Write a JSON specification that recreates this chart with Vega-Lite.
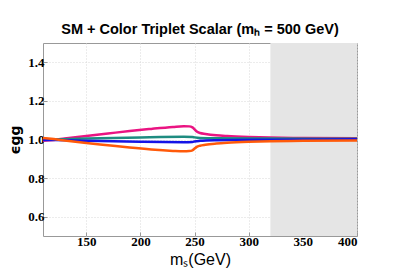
{
  "$schema": "https://vega.github.io/schema/vega-lite/v6.json",
  "width": 314,
  "height": 193,
  "autosize": "none",
  "padding": {"left": 43, "top": 43, "right": 42, "bottom": 43},
  "title": {"text": "SM + Color Triplet Scalar (mₕ = 500 GeV)", "font": "Liberation Sans", "fontSize": 14.5, "fontWeight": "bold", "color": "black", "offset": 6, "anchor": "middle"},
  "config": {
    "view": {"stroke": "#999", "strokeWidth": 1}
  },
  "layer": [
    {
      "data": {"values": [{"start": 320, "end": 400}]},
      "mark": {"type": "rect", "color": "#e5e5e5"},
      "encoding": {
        "x": {"field": "start", "type": "quantitative", "scale": {"domain": [110, 400], "nice": false, "zero": false}},
        "x2": {"field": "end"}
      }
    },
    {
      "data": {"values": [
        {"ms": 110, "s": "pink", "eps": 0.994}, {"ms": 120, "s": "pink", "eps": 0.998}, {"ms": 130, "s": "pink", "eps": 1.005}, {"ms": 150, "s": "pink", "eps": 1.018}, {"ms": 170, "s": "pink", "eps": 1.031}, {"ms": 190, "s": "pink", "eps": 1.044}, {"ms": 210, "s": "pink", "eps": 1.055}, {"ms": 230, "s": "pink", "eps": 1.065}, {"ms": 240, "s": "pink", "eps": 1.069}, {"ms": 245, "s": "pink", "eps": 1.068}, {"ms": 248, "s": "pink", "eps": 1.063}, {"ms": 250, "s": "pink", "eps": 1.052}, {"ms": 252, "s": "pink", "eps": 1.041}, {"ms": 255, "s": "pink", "eps": 1.034}, {"ms": 260, "s": "pink", "eps": 1.029}, {"ms": 270, "s": "pink", "eps": 1.022}, {"ms": 280, "s": "pink", "eps": 1.018}, {"ms": 300, "s": "pink", "eps": 1.013}, {"ms": 320, "s": "pink", "eps": 1.010}, {"ms": 350, "s": "pink", "eps": 1.008}, {"ms": 400, "s": "pink", "eps": 1.007},
        {"ms": 110, "s": "teal", "eps": 0.999}, {"ms": 120, "s": "teal", "eps": 1.0}, {"ms": 150, "s": "teal", "eps": 1.005}, {"ms": 200, "s": "teal", "eps": 1.011}, {"ms": 240, "s": "teal", "eps": 1.014}, {"ms": 248, "s": "teal", "eps": 1.013}, {"ms": 250, "s": "teal", "eps": 1.011}, {"ms": 255, "s": "teal", "eps": 1.008}, {"ms": 270, "s": "teal", "eps": 1.006}, {"ms": 320, "s": "teal", "eps": 1.005}, {"ms": 400, "s": "teal", "eps": 1.004},
        {"ms": 110, "s": "blue", "eps": 0.997}, {"ms": 120, "s": "blue", "eps": 0.997}, {"ms": 150, "s": "blue", "eps": 0.993}, {"ms": 200, "s": "blue", "eps": 0.988}, {"ms": 240, "s": "blue", "eps": 0.986}, {"ms": 248, "s": "blue", "eps": 0.987}, {"ms": 250, "s": "blue", "eps": 0.990}, {"ms": 255, "s": "blue", "eps": 0.993}, {"ms": 270, "s": "blue", "eps": 0.996}, {"ms": 320, "s": "blue", "eps": 0.999}, {"ms": 400, "s": "blue", "eps": 1.001},
        {"ms": 110, "s": "orange", "eps": 1.008}, {"ms": 120, "s": "orange", "eps": 1.002}, {"ms": 130, "s": "orange", "eps": 0.995}, {"ms": 150, "s": "orange", "eps": 0.982}, {"ms": 170, "s": "orange", "eps": 0.970}, {"ms": 190, "s": "orange", "eps": 0.958}, {"ms": 210, "s": "orange", "eps": 0.948}, {"ms": 230, "s": "orange", "eps": 0.941}, {"ms": 240, "s": "orange", "eps": 0.939}, {"ms": 245, "s": "orange", "eps": 0.940}, {"ms": 248, "s": "orange", "eps": 0.944}, {"ms": 250, "s": "orange", "eps": 0.953}, {"ms": 252, "s": "orange", "eps": 0.962}, {"ms": 255, "s": "orange", "eps": 0.968}, {"ms": 260, "s": "orange", "eps": 0.973}, {"ms": 270, "s": "orange", "eps": 0.979}, {"ms": 280, "s": "orange", "eps": 0.983}, {"ms": 300, "s": "orange", "eps": 0.988}, {"ms": 320, "s": "orange", "eps": 0.991}, {"ms": 350, "s": "orange", "eps": 0.993}, {"ms": 400, "s": "orange", "eps": 0.995}
      ]},
      "mark": {"type": "line", "strokeWidth": 2.5, "interpolate": "monotone"},
      "encoding": {
        "x": {"field": "ms", "type": "quantitative", "scale": {"domain": [110, 400], "nice": false, "zero": false},
              "axis": {"values": [150, 200, 250, 300, 350, 400], "title": "mₛ(GeV)", "titleFont": "Liberation Sans", "titleFontSize": 16, "titleFontWeight": "normal", "titleColor": "black", "titlePadding": 3, "labelPadding": 3, "labelFont": "Liberation Serif, DejaVu Serif, serif", "labelFontWeight": "bold", "labelFontSize": 13, "labelColor": "black", "domain": false, "grid": true, "gridColor": "#d8d8d8", "gridDash": [1, 2], "tickColor": "#999", "tickSize": -4}},
        "y": {"field": "eps", "type": "quantitative", "scale": {"domain": [0.5, 1.5], "nice": false, "zero": false},
              "axis": {"values": [0.6, 0.8, 1.0, 1.2, 1.4], "format": ".1f", "title": "ϵgg", "titleFont": "DejaVu Sans", "titleFontSize": 14, "titleFontWeight": "bold", "titleColor": "black", "titlePadding": 5, "labelPadding": 3, "labelFont": "Liberation Serif, DejaVu Serif, serif", "labelFontWeight": "bold", "labelFontSize": 13, "labelColor": "black", "domain": false, "grid": true, "gridColor": "#d8d8d8", "gridDash": [1, 2], "tickColor": "#999", "tickSize": -4}},
        "color": {"field": "s", "type": "nominal", "legend": null, "scale": {"domain": ["pink", "teal", "blue", "orange"], "range": ["#ea1482", "#1e8c80", "#1414e6", "#ff5a0a"]}},
        "order": {"field": "ms", "type": "quantitative"}
      }
    }
  ]
}
